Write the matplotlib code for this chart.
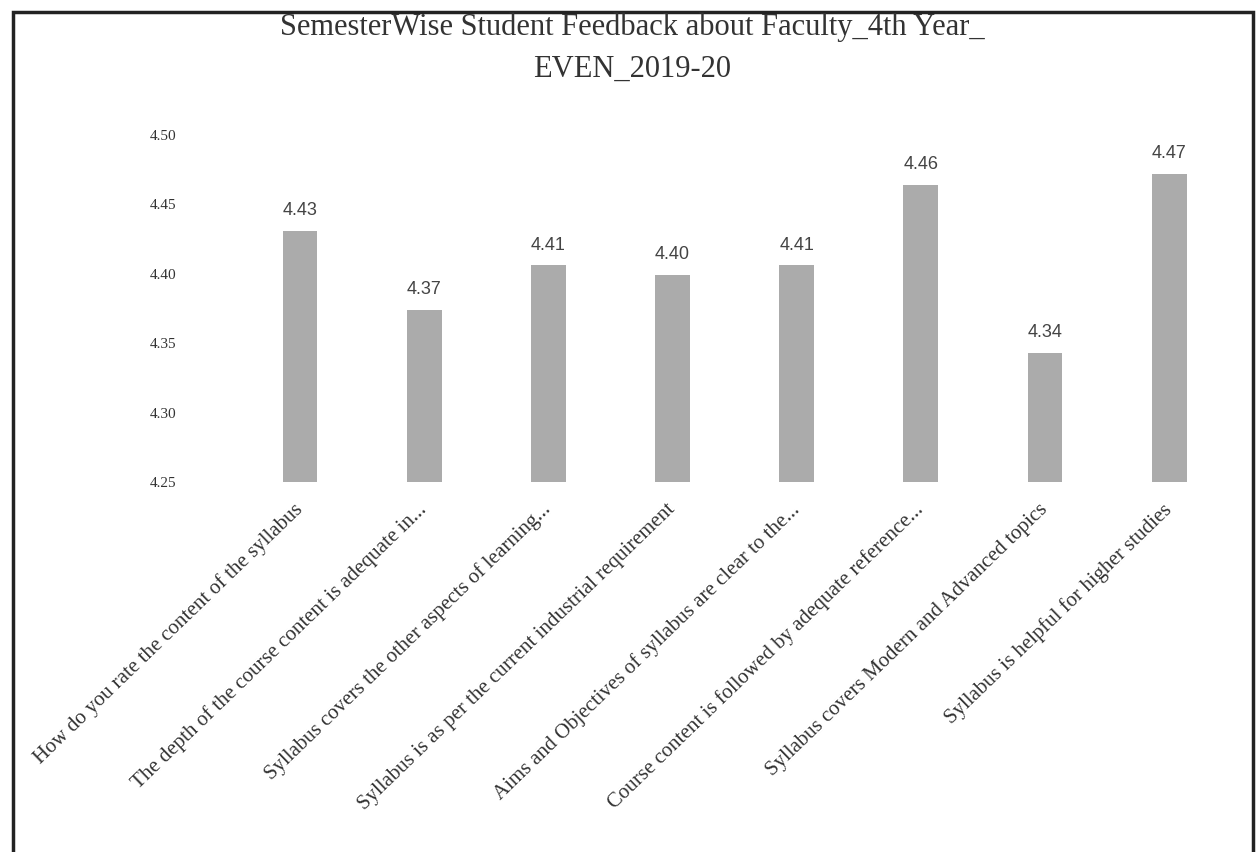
import matplotlib.pyplot as plt
from matplotlib.patches import Rectangle

questions = [
    'How do you rate the content of the syllabus',
    'The depth of the course content is adequate in...',
    'Syllabus covers the other aspects of learning...',
    'Syllabus is as per the current industrial requirement',
    'Aims and Objectives of syllabus are clear to the...',
    'Course content is followed by adequate reference...',
    'Syllabus covers Modern and Advanced topics',
    'Syllabus is helpful for higher studies',
]
scores = [4.431, 4.374, 4.406, 4.399, 4.406, 4.464, 4.343, 4.472]
yticks = [4.25, 4.30, 4.35, 4.40, 4.45, 4.50]
title_lines = ['SemesterWise Student Feedback about Faculty_4th Year_', 'EVEN_2019-20']

fig = plt.figure(figsize=(12.59, 8.52), dpi=100)
ax = fig.add_axes([0.189, 0.4343, 0.789, 0.4072])

x = range(len(questions))
bars = ax.bar(x, scores, width=0.28, color='#ababab')
for b, v in zip(bars, scores):
    ax.text(b.get_x() + b.get_width() / 2, v + 0.0085, f'{v:.2f}',
            ha='center', va='bottom', fontsize=13, color='#444444',
            family='Liberation Sans')

ax.set_xlim(-0.5, len(questions) - 0.5)
ax.set_ylim(4.25, 4.50)
ax.set_yticks(yticks)
ax.set_yticklabels([f'{t:.2f}' for t in yticks], family='Liberation Serif',
                   fontsize=11, color='#333333')
ax.tick_params(axis='y', length=0, pad=44)
ax.tick_params(axis='x', length=0, pad=18)
ax.set_xticks(list(x))
ax.set_xticklabels(questions, rotation=44, ha='right', va='center',
                   rotation_mode='anchor', family='Liberation Serif',
                   fontsize=15, color='#333333')
for s in ax.spines.values():
    s.set_visible(False)

# title as two lines to control spacing
for line, yy in zip(title_lines, [0.968, 0.919]):
    fig.text(0.502, yy, line, ha='center', va='center',
             family='Liberation Serif', fontsize=22, color='#333333')

fig.patches.append(Rectangle((13 / 1259, -0.05), 1240 / 1259, 1.036,
                             transform=fig.transFigure, fill=False,
                             edgecolor='#222222', linewidth=2.5))

fig.savefig('out.png', dpi=100)
